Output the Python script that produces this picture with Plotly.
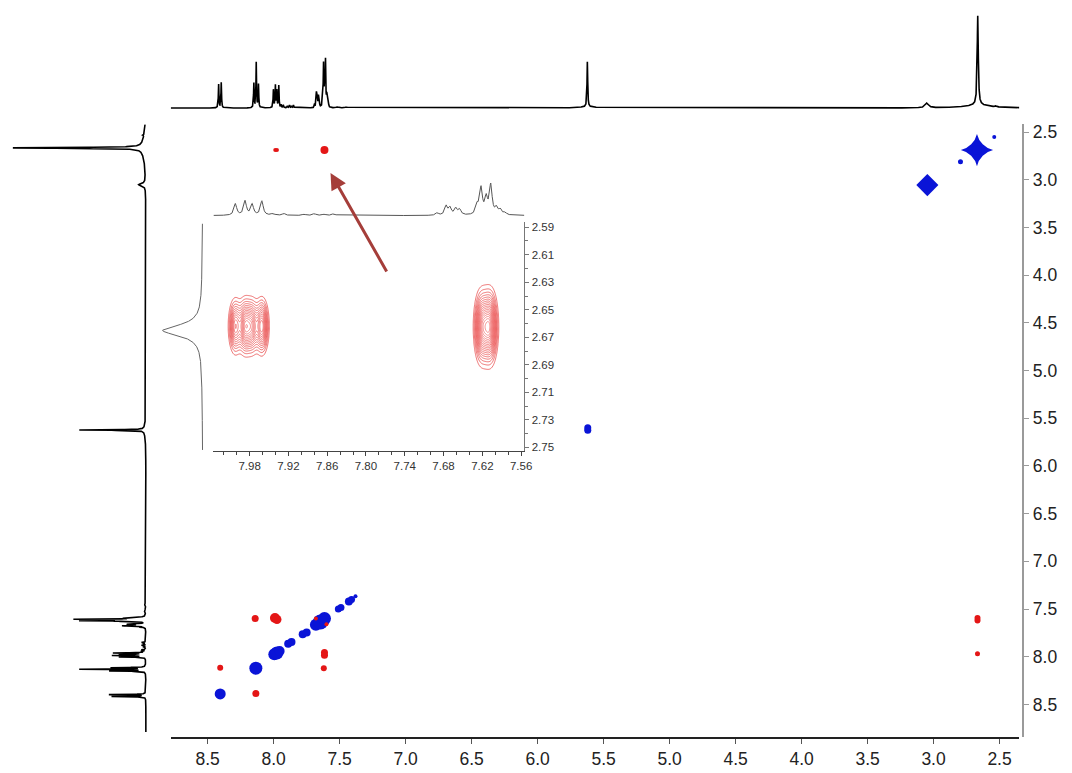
import numpy as np
import plotly.graph_objects as go

W, H = 1072, 773

# ---------------- 1D proton spectrum: peak list read from the projections ----------------
peak_ppm = [8.417, 8.397, 8.150, 8.132, 8.115,
            8.002, 7.987, 7.976, 7.961, 7.944, 7.927, 7.896, 7.880, 7.865, 7.850,
            7.690, 7.676, 7.670, 7.661, 7.655,
            7.628, 7.622, 7.614, 7.607, 7.598, 7.592, 7.585,
            7.520, 7.450, 5.623, 5.623, 3.050, 2.665, 2.665, 2.530]
peak_height = [0.25, 0.27, 0.26, 0.48, 0.25,
               0.19, 0.235, 0.18, 0.235, 0.03, 0.03, 0.02, 0.03, 0.02, 0.03,
               0.04, 0.15, 0.12, 0.11, 0.09,
               0.15, 0.43, 0.26, 0.48, 0.11, 0.08, 0.04,
               0.01, 0.01, 0.48, 0.012, 0.05, 0.95, 0.03, 0.01]
peak_hwhm = [0.0025, 0.0025, 0.0025, 0.0025, 0.0025,
             0.0025, 0.0025, 0.0025, 0.0025, 0.003, 0.003, 0.003, 0.003, 0.003, 0.003,
             0.0025, 0.0025, 0.0025, 0.0025, 0.0025,
             0.0025, 0.0025, 0.0025, 0.0025, 0.0025, 0.0025, 0.0025,
             0.01, 0.01, 0.003, 0.08, 0.015, 0.0048, 0.12, 0.004]

# ---------------- main 2D map: diagonal (blue) and cross peaks (red) ----------------
blue_x = [8.405, 8.135, 7.995, 7.975, 7.955, 7.89, 7.865, 7.78, 7.75,
          7.68, 7.645, 7.615, 7.51, 7.49, 7.43, 7.41, 7.38,
          5.62, 5.62, 3.047, 2.671, 2.671, 2.796, 2.54]
blue_y = [8.39, 8.12, 7.975, 7.96, 7.94, 7.865, 7.845, 7.765, 7.745,
          7.665, 7.635, 7.60, 7.50, 7.485, 7.42, 7.40, 7.365,
          5.60, 5.625, 3.055, 2.6875, 2.6875, 2.81, 2.55]
blue_size = [11, 13, 12, 13, 10, 8, 8, 8, 8,
             12, 15, 13, 7, 7, 8, 7, 4,
             7, 7, 17, 23, 10, 5, 4]
blue_symbol = ["circle"] * 19 + ["diamond", "star-diamond", "circle", "circle", "circle"]

red_x = [8.14, 7.99, 7.975, 8.405, 8.135, 7.615, 7.615, 7.62, 7.68, 7.60,
         2.667, 2.667, 2.667, 7.988, 7.975, 7.615]
red_y = [7.60, 7.595, 7.61, 8.115, 8.385, 7.955, 7.985, 8.12, 7.60, 7.66,
         7.595, 7.62, 7.97, 2.688, 2.688, 2.688]
red_size = [7, 10, 9, 6, 7, 7, 7, 6, 4, 4,
            6, 6, 5, 4, 4, 8]

# ---------------- inset 2D: two cross peaks at F1 = 2.665 ppm ----------------
inset_line_x = [8.002, 7.987, 7.976, 7.961, 7.622, 7.614, 7.607]
inset_line_amp = [0.85, 1.0, 0.85, 1.0, 0.9, 0.55, 1.0]
inset_line_sx = [0.0056, 0.0056, 0.0056, 0.0056, 0.0060, 0.0060, 0.0060]
inset_line_cy = [2.662, 2.662, 2.662, 2.662, 2.6625, 2.6625, 2.6625]
inset_line_sy = [0.0105, 0.0105, 0.0105, 0.0105, 0.0138, 0.0138, 0.0138]

main_xticks = [8.5, 8.0, 7.5, 7.0, 6.5, 6.0, 5.5, 5.0, 4.5, 4.0, 3.5, 3.0, 2.5]
main_yticks = [2.5, 3.0, 3.5, 4.0, 4.5, 5.0, 5.5, 6.0, 6.5, 7.0, 7.5, 8.0, 8.5]


def spectrum(grid):
    s = np.zeros_like(grid)
    for p, h, w in zip(peak_ppm, peak_height, peak_hwhm):
        s += h / (1.0 + ((grid - p) / w) ** 2)
    return s


def fx(px):
    return px / W


def fy(px):
    return 1 - px / H


FONT = "Liberation Sans, Arial, sans-serif"

fig = go.Figure()

# main 2D
fig.add_trace(go.Scatter(x=blue_x, y=blue_y, mode="markers", xaxis="x", yaxis="y",
                         marker=dict(color="rgb(10,20,215)", size=blue_size, symbol=blue_symbol,
                                     opacity=1, line=dict(width=0)), hoverinfo="skip"))
fig.add_trace(go.Scatter(x=red_x, y=red_y, mode="markers", xaxis="x", yaxis="y",
                         marker=dict(color="rgb(228,22,22)", size=red_size, opacity=1,
                                     line=dict(width=0)),
                         hoverinfo="skip"))

# top projection
g_top = np.arange(2.35, 8.78, 0.0004)
fig.add_trace(go.Scatter(x=g_top, y=spectrum(g_top), mode="lines", xaxis="x2", yaxis="y2",
                         line=dict(color="black", width=1.6), hoverinfo="skip"))

# left projection
g_left = np.arange(2.42, 8.79, 0.0004)
fig.add_trace(go.Scatter(x=spectrum(g_left), y=g_left, mode="lines", xaxis="x3", yaxis="y3",
                         line=dict(color="black", width=1.6), hoverinfo="skip"))

# inset contour
ix = np.linspace(8.036, 7.555, 320)
iy = np.linspace(2.5864, 2.7525, 260)
XX, YY = np.meshgrid(ix, iy)
Z = np.zeros_like(XX)
for cx, a, sx, cy, sy in zip(inset_line_x, inset_line_amp, inset_line_sx, inset_line_cy, inset_line_sy):
    Z += a * np.exp(-((XX - cx) ** 2) / (2 * sx ** 2)) * np.exp(-((YY - cy) ** 2) / (2 * sy ** 2))
fig.add_trace(go.Contour(x=ix, y=iy, z=Z, xaxis="x4", yaxis="y4", showscale=False,
                         contours=dict(coloring="lines", start=0.12, end=1.5, size=0.075),
                         colorscale=[[0, "rgb(232,75,75)"], [1, "rgb(242,125,125)"]],
                         line=dict(width=0.8), hoverinfo="skip"))

# inset top projection
g_it = np.arange(7.555, 8.036, 0.0002)
fig.add_trace(go.Scatter(x=g_it, y=spectrum(g_it), mode="lines", xaxis="x5", yaxis="y5",
                         line=dict(color="#555", width=1), hoverinfo="skip"))

# inset left projection
g_il = np.arange(2.5875, 2.752, 0.0001)
fig.add_trace(go.Scatter(x=spectrum(g_il), y=g_il, mode="lines", xaxis="x6", yaxis="y6",
                         line=dict(color="#666", width=1), hoverinfo="skip"))

main_x_dom = [fx(172), fx(1027)]
main_y_dom = [fy(740), fy(123)]
main_x_rng = [8.78, 2.35]
main_y_rng = [8.844, 2.4167]
in_x_dom = [fx(215), fx(528.3)]
in_y_dom = [fy(451.7), fy(221.7)]
in_x_rng = [8.036, 7.555]
in_y_rng = [2.7525, 2.5864]

hidden = dict(visible=False, showgrid=False, zeroline=False)

fig.update_layout(
    width=W, height=H, margin=dict(l=0, r=0, t=0, b=0),
    paper_bgcolor="white", plot_bgcolor="rgba(0,0,0,0)", showlegend=False,
    font=dict(family=FONT, color="#222"),
    xaxis=dict(domain=main_x_dom, range=main_x_rng, anchor="y", showgrid=False, zeroline=False,
               showline=True, linecolor="#222", linewidth=1.5, ticks="outside", ticklen=5,
               tickcolor="#555", tickvals=main_xticks, ticktext=[f"{v:.1f}" for v in main_xticks],
               tickfont=dict(size=17.5, family=FONT, color="#222")),
    yaxis=dict(domain=main_y_dom, range=main_y_rng, anchor="free", position=fx(1031), side="right",
               showgrid=False, zeroline=False, showline=True, linecolor="#9a9a9a", linewidth=2,
               ticks="outside", ticklen=5, tickcolor="#9a9a9a", tickvals=main_yticks,
               ticktext=[f"{v:.1f}" for v in main_yticks],
               tickfont=dict(size=17.5, family=FONT, color="#222")),
    xaxis2=dict(domain=main_x_dom, range=main_x_rng, anchor="y2", **hidden),
    yaxis2=dict(domain=[fy(108.6), fy(11.7)], range=[-0.02, 1.0], anchor="x2", **hidden),
    xaxis3=dict(domain=[fx(10), fx(149.7)], range=[1.0, -0.02], anchor="y3", **hidden),
    yaxis3=dict(domain=main_y_dom, range=main_y_rng, anchor="x3", **hidden),
    xaxis4=dict(domain=in_x_dom, range=in_x_rng, anchor="y4", showgrid=False, zeroline=False,
                showline=True, linecolor="#444", linewidth=1, ticks="outside", ticklen=4,
                tickcolor="#444", tickmode="linear", tick0=7.56, dtick=0.06, tickformat=".2f",
                minor=dict(tickmode="linear", tick0=7.56, dtick=0.02, ticks="outside", ticklen=3,
                           tickcolor="#444", showgrid=False),
                tickfont=dict(size=11.5, family=FONT, color="#333")),
    yaxis4=dict(domain=in_y_dom, range=in_y_rng, anchor="x4", side="right", showgrid=False,
                zeroline=False, showline=True, linecolor="#777", linewidth=1, ticks="outside",
                ticklen=4, tickcolor="#777", tickmode="linear", tick0=2.59, dtick=0.02,
                tickformat=".2f",
                minor=dict(tickmode="linear", tick0=2.59, dtick=0.01, ticks="outside", ticklen=3,
                           tickcolor="#777", showgrid=False),
                tickfont=dict(size=11.5, family=FONT, color="#333")),
    xaxis5=dict(domain=in_x_dom, range=in_x_rng, anchor="y5", **hidden),
    yaxis5=dict(domain=[fy(216.2), fy(153.8)], range=[-0.02, 1.0], anchor="x5", **hidden),
    xaxis6=dict(domain=[fx(163), fx(205.84)], range=[1.0, -0.02], anchor="y6", **hidden),
    yaxis6=dict(domain=in_y_dom, range=in_y_rng, anchor="x6", **hidden),
)

fig.add_annotation(x=fx(333), y=fy(172), xref="paper", yref="paper", text="", showarrow=True,
                   ax=57, ay=100, axref="pixel", ayref="pixel", arrowhead=2, arrowsize=1.1,
                   arrowwidth=3, arrowcolor="rgb(165,62,58)")

fig.write_html("out.html")
